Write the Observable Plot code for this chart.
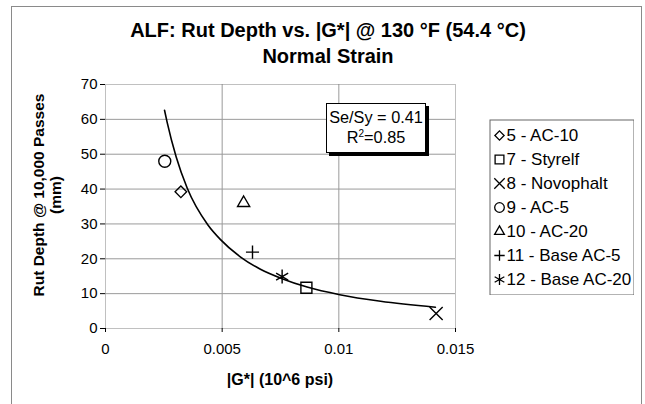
<!DOCTYPE html>
<html>
<head>
<meta charset="utf-8">
<script src="https://cdn.jsdelivr.net/npm/d3@7"></script>
<script src="https://cdn.jsdelivr.net/npm/@observablehq/plot@0.6"></script>
<style>
  body { margin: 0; background: #fff; }
  #wrap { position: relative; width: 645px; height: 404px; overflow: hidden;
          font-family: "Liberation Sans", Arial, sans-serif; color: #000; background: #fff; }
  #frame { position: absolute; left: 11px; top: 6px; width: 629px; height: 420px;
           border: 1px solid #8a8a8a; }
  #chart { position: absolute; left: 0; top: 0; }
  .ttl { position: absolute; left: 0; width: 656px; text-align: center; font-weight: bold;
         font-size: 20px; white-space: nowrap; }
  #title { top: 19px; }
  #subtitle { top: 45px; }
  #ylabel { position: absolute; left: 47px; top: 195px; width: 300px; margin-left: -150px;
            margin-top: -17px; line-height: 17px; text-align: center; font-weight: bold;
            font-size: 15.5px; transform: rotate(-90deg); white-space: nowrap; }
  #xlabel { position: absolute; left: 180px; width: 200px; top: 371px; text-align: center;
            font-weight: bold; font-size: 16px; white-space: nowrap; }
  #stats { position: absolute; left: 326px; top: 103px; width: 100px; height: 50px;
           border: 1px solid #000; box-shadow: 3px 3px 0 #000; background: #fff;
           text-align: center; font-size: 16.3px; line-height: 20px; box-sizing: border-box;
           padding-top: 3px; }
  #stats sup { font-size: 10px; line-height: 0; vertical-align: 6px; }
  #legend { position: absolute; left: 489px; top: 119px; line-height: 0; }
</style>
</head>
<body>
<div id="wrap">
  <div id="frame"></div>
  <div id="chart"></div>
  <div id="title" class="ttl">ALF: Rut Depth vs. |G*| @ 130 °F (54.4 °C)</div>
  <div id="subtitle" class="ttl">Normal Strain</div>
  <div id="ylabel">Rut Depth @ 10,000 Passes<br>(mm)</div>
  <div id="xlabel">|G*| (10^6 psi)</div>
  <div id="stats">Se/Sy = 0.41<br>R<sup>2</sup>=0.85</div>
  <div id="legend"></div>
</div>
<script>
// ---- data ----
const seriesNames = ["5 - AC-10", "7 - Styrelf", "8 - Novophalt", "9 - AC-5", "10 - AC-20", "11 - Base AC-5", "12 - Base AC-20"];
const gStar      = [0.00323, 0.00861, 0.01417, 0.00254, 0.00592, 0.00630, 0.00757];
const rutDepth   = [39.2, 11.7, 4.3, 48.0, 36.0, 21.9, 14.9];

// trend curve
const fitG   = [0.00253, 0.00264, 0.00303, 0.00350, 0.00439, 0.00493, 0.00579, 0.00664, 0.00757, 0.00864, 0.01004, 0.01179, 0.01414];
const fitRut = [62.6, 59.2, 49.2, 40.3, 29.7, 25.5, 20.5, 17.0, 14.3, 11.9, 9.7, 7.8, 6.1];

const xTicks = [0, 0.005, 0.01, 0.015];
const yTicks = [0, 10, 20, 30, 40, 50, 60, 70];

// ---- styles ----
const symbols = ["diamond2", "square2", "times", "circle", "triangle2", "plus", "asterisk"];
const symbolR = {"diamond2": 5.2, "square2": 7, "times": 6, "circle": 6, "triangle2": 5.8, "plus": 4.3, "asterisk": 6.6};
const rOf = name => symbolR[symbols[seriesNames.indexOf(name)]];

const points = seriesNames.map((name, i) => ({name, g: gStar[i], rut: rutDepth[i]}));
const fit = fitG.map((g, i) => ({g, rut: fitRut[i]}));

const font = "'Liberation Sans', Arial, sans-serif";

const chart = Plot.plot({
  width: 645, height: 404,
  marginLeft: 105, marginRight: 190, marginTop: 84, marginBottom: 76,
  style: {fontSize: "15px", fontFamily: font, color: "#000", background: "transparent", overflow: "visible"},
  x: {domain: [0, 0.015]},
  y: {domain: [0, 70]},
  symbol: {domain: seriesNames, range: symbols},
  r: {type: "identity"},
  marks: [
    Plot.gridX(xTicks.slice(1, -1), {stroke: "#9a9a9a", strokeOpacity: 1}),
    Plot.gridY(yTicks.slice(1, -1), {stroke: "#9a9a9a", strokeOpacity: 1}),
    Plot.frame({stroke: "#808080", strokeDasharray: "1,1"}),
    Plot.axisX(xTicks, {tickFormat: d => String(d), tickSize: 4, tickPadding: 11, label: null, fontSize: 15}),
    Plot.axisY(yTicks, {tickSize: 5, tickPadding: 3, label: null, fontSize: 15}),
    Plot.line(fit, {x: "g", y: "rut", curve: "monotone-x", stroke: "#000", strokeWidth: 1.6}),
    Plot.dot(points, {x: "g", y: "rut", symbol: "name", r: d => rOf(d.name), stroke: "#000", fill: "none", strokeWidth: 1.4})
  ]
});
document.getElementById("chart").appendChild(chart);

const legend = Plot.plot({
  width: 145, height: 176,
  margin: 0,
  style: {fontSize: "17px", fontFamily: font, color: "#000", background: "#fff"},
  x: {axis: null, domain: [0, 1]},
  y: {type: "point", domain: seriesNames, range: [13.5, 163], padding: 0, axis: null},
  symbol: {domain: seriesNames, range: symbols},
  r: {type: "identity"},
  marks: [
    Plot.frame({stroke: "#666", inset: 0.5}),
    Plot.dot(seriesNames, {y: d => d, symbol: d => d, r: d => rOf(d) * 0.8, frameAnchor: "left", dx: 10, stroke: "#000", fill: "none", strokeWidth: 1.3}),
    Plot.text(seriesNames, {y: d => d, text: d => d, frameAnchor: "left", dx: 17, textAnchor: "start", fill: "#000"})
  ]
});
document.getElementById("legend").appendChild(legend);
</script>
</body>
</html>
